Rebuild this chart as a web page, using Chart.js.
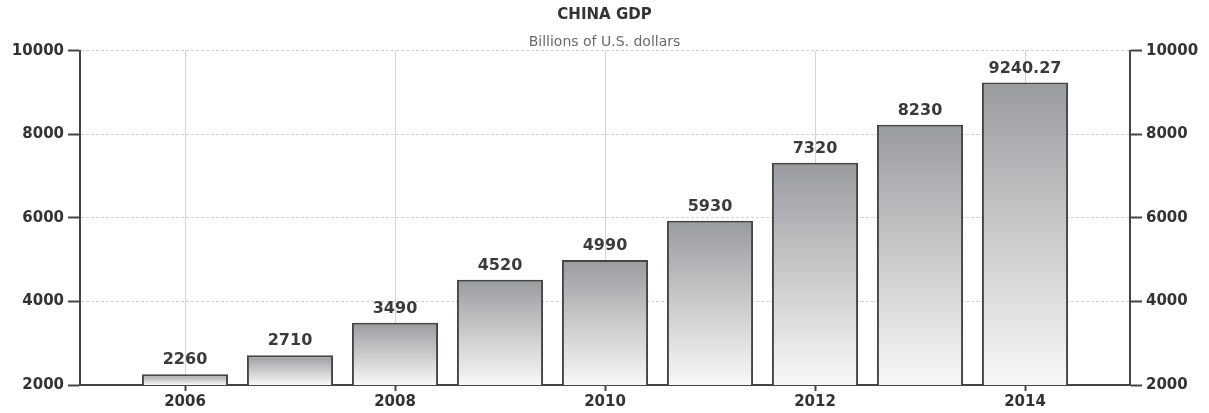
<!DOCTYPE html>
<html>
<head>
<meta charset="utf-8">
<title>China GDP</title>
<script src="https://cdn.jsdelivr.net/npm/chart.js@4/dist/chart.umd.min.js"></script>
<style>
  html, body { margin: 0; padding: 0; background: #fff; }
  #wrap { width: 1209px; height: 413px; }
</style>
</head>
<body>
<div id="wrap"><canvas id="canvas"></canvas></div>
<script>
'use strict';

let years = [2006, 2007, 2008, 2009, 2010, 2011, 2012, 2013, 2014];
let gdp = [2260, 2710, 3490, 4520, 4990, 5930, 7320, 8230, 9240.27];
let gdpLabels = ['2260', '2710', '3490', '4520', '4990', '5930', '7320', '8230', '9240.27'];
let yTicks = [2000, 4000, 6000, 8000, 10000];
let xTicks = [2006, 2008, 2010, 2012, 2014];

let fontFamily = '"DejaVu Sans", Verdana, sans-serif';
let canvas = document.getElementById('canvas');

// each bar gets its own top-to-bottom grey fade
function barFill(ctx){
  let chart = ctx.chart;
  if (!chart.chartArea || ctx.parsed === undefined) return '#c8c8c8';
  let yScale = chart.scales.y;
  let top = yScale.getPixelForValue(ctx.parsed.y);
  let bottom = yScale.getPixelForValue(yScale.min);
  if (!(bottom > top)) return '#c8c8c8';
  let g = chart.ctx.createLinearGradient(0, top, 0, bottom);
  g.addColorStop(0, '#999c9f');
  g.addColorStop(1, '#f8f8f8');
  return g;
}

// value text above every bar
let valueLabels = {
  id: 'valueLabels',
  afterDatasetsDraw(chart){
    let c = chart.ctx;
    let meta = chart.getDatasetMeta(0);
    c.save();
    c.font = 'bold 16px ' + fontFamily;
    c.fillStyle = '#3a3a3a';
    c.textAlign = 'center';
    c.textBaseline = 'bottom';
    meta.data.forEach((bar, i) => {
      c.fillText(gdpLabels[i], bar.x, bar.y - 6);
    });
    c.restore();
  }
};

function fixWidth(w){
  return scale => { scale.width = w; };
}

let axisTicks = {
  font: { family: fontFamily, size: 15, weight: 'bold' },
  color: '#333',
  padding: 4
};

new Chart(canvas, {
  type: 'bar',
  data: {
    datasets: [{
      label: 'GDP',
      data: years.map((yr, i) => ({ x: yr, y: gdp[i] })),
      backgroundColor: barFill,
      borderColor: '#454545',
      borderWidth: 2,
      borderSkipped: false,
      barPercentage: 0.82,
      categoryPercentage: 1
    }]
  },
  plugins: [valueLabels],
  options: {
    responsive: true,
    maintainAspectRatio: false,
    animation: false,
    layout: { padding: 0 },
    plugins: {
      legend: { display: false },
      tooltip: { enabled: false },
      title: {
        display: true,
        text: 'CHINA GDP',
        color: '#333',
        font: { family: fontFamily, size: 15, weight: 'bold' },
        padding: { top: 6, bottom: 10 }
      },
      subtitle: {
        display: true,
        text: 'Billions of U.S. dollars',
        color: '#6a6a6a',
        font: { family: fontFamily, size: 14 },
        padding: { top: 0, bottom: 0 }
      }
    },
    scales: {
      x: {
        type: 'linear',
        offset: false,
        min: 2005,
        max: 2015,
        afterBuildTicks: scale => { scale.ticks = xTicks.map(v => ({ value: v })); },
        afterFit: scale => { scale.height = 28; },
        ticks: Object.assign({}, axisTicks, { callback: v => String(v), padding: 2 }),
        grid: {
          offset: false,
          color: '#d4d4d4',
          tickColor: '#444',
          tickLength: 6,
          tickWidth: 2,
          lineWidth: 1
        },
        border: { color: '#444', width: 2 }
      },
      y: {
        position: 'left',
        min: 2000,
        max: 10000,
        afterBuildTicks: scale => { scale.ticks = yTicks.map(v => ({ value: v })); },
        afterFit: fixWidth(80),
        ticks: Object.assign({}, axisTicks, { callback: v => String(v) }),
        grid: {
          color: '#d0d0d0',
          tickColor: '#444',
          tickLength: 12,
          tickWidth: 2,
          lineWidth: 1
        },
        border: { color: '#444', width: 2, dash: [3, 2] }
      },
      y2: {
        position: 'right',
        min: 2000,
        max: 10000,
        afterBuildTicks: scale => { scale.ticks = yTicks.map(v => ({ value: v })); },
        afterFit: fixWidth(79),
        ticks: Object.assign({}, axisTicks, { callback: v => String(v) }),
        grid: {
          drawOnChartArea: false,
          tickColor: '#444',
          tickLength: 12,
          tickWidth: 2
        },
        border: { color: '#444', width: 2 }
      }
    }
  }
});
</script>
</body>
</html>
